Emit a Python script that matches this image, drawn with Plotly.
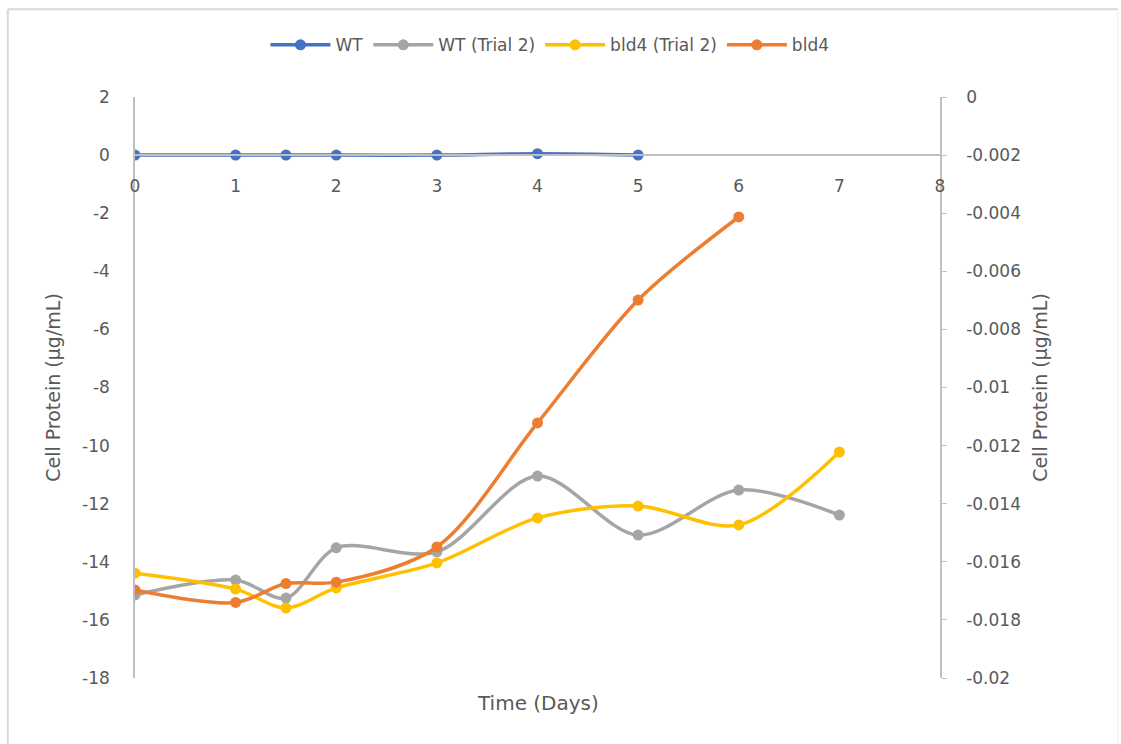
import plotly.graph_objects as go

# Sampling days
days_wt = [0, 1, 1.5, 2, 3, 4, 5]
days_trial2 = [0, 1, 1.5, 2, 3, 4, 5, 6, 7]
days_bld4 = [0, 1, 1.5, 2, 3, 4, 5, 6]

# Cell protein (µg/mL)
wt = [0.0, 0.0, 0.0, 0.0, 0.0, 0.05, 0.0]
wt_trial2 = [-15.14, -14.63, -15.25, -13.52, -13.66, -11.05, -13.08, -11.53, -12.39]
bld4_trial2 = [-14.39, -14.94, -15.59, -14.9, -14.04, -12.49, -12.08, -12.73, -10.22]
bld4 = [-14.97, -15.4, -14.75, -14.7, -13.49, -9.22, -4.99, -2.13]

x_ticks = [0, 1, 2, 3, 4, 5, 6, 7, 8]
left_ticks = [2, 0, -2, -4, -6, -8, -10, -12, -14, -16, -18]
right_ticks = [0, -0.002, -0.004, -0.006, -0.008, -0.01, -0.012, -0.014, -0.016, -0.018, -0.02]
right_labels = ["0", "-0.002", "-0.004", "-0.006", "-0.008", "-0.01", "-0.012",
                "-0.014", "-0.016", "-0.018", "-0.02"]

GREY_TXT = "#595959"
AXIS = "#BFBFBF"
FONT = "DejaVu Sans, Liberation Sans, sans-serif"

series = [
    ("WT", days_wt, wt, "#4472C4"),
    ("WT (Trial 2)", days_trial2, wt_trial2, "#A5A5A5"),
    ("bld4 (Trial 2)", days_trial2, bld4_trial2, "#FFC000"),
    ("bld4", days_bld4, bld4, "#ED7D31"),
]

fig = go.Figure()
for name, xs, ys, color in series:
    fig.add_trace(go.Scatter(
        x=xs, y=ys, name=name, mode="lines+markers",
        line=dict(color=color, width=3.5, shape="spline", smoothing=0.9),
        marker=dict(color=color, size=11),
    ))

# secondary scale shown on the right
fig.add_trace(go.Scatter(
    x=[None], y=[None], yaxis="y2", showlegend=False, hoverinfo="skip",
))

fig.update_layout(
    width=1121, height=744,
    margin=dict(l=135, r=181, t=97, b=66, autoexpand=False),
    paper_bgcolor="white", plot_bgcolor="white",
    font=dict(family=FONT, color=GREY_TXT, size=17),
    showlegend=True,
    legend=dict(orientation="h", x=0.5155, xanchor="center", y=1.089, yanchor="middle",
                bgcolor="rgba(0,0,0,0)",
                font=dict(size=17, color=GREY_TXT), itemwidth=60, tracegroupgap=0),
    xaxis=dict(
        range=[0, 8], tickvals=x_ticks, ticktext=[str(v) for v in x_ticks],
        showgrid=False, zeroline=False, showline=True, linecolor=AXIS, linewidth=1.5,
        anchor="free", position=0.9, ticks="", ticklabelstandoff=16,
        title=None,
    ),
    yaxis=dict(
        range=[-18, 2], tickvals=left_ticks, ticktext=[str(v) for v in left_ticks],
        showgrid=False, zeroline=False, showline=True, linecolor=AXIS, linewidth=1.5,
        ticks="", ticklabelstandoff=20,
        title=dict(text="Cell Protein (µg/mL)", font=dict(size=19, color=GREY_TXT), standoff=16),
    ),
    yaxis2=dict(
        range=[-0.02, 0], overlaying="y", side="right", anchor="x",
        tickvals=right_ticks, ticktext=right_labels,
        showgrid=False, zeroline=False, showline=True, linecolor=AXIS, linewidth=1.5,
        ticks="outside", ticklen=5, tickcolor=AXIS, ticklabelstandoff=16,
        title=dict(text="Cell Protein (µg/mL)", font=dict(size=19, color=GREY_TXT), standoff=14),
    ),
    annotations=[dict(
        text="Time (Days)", xref="paper", yref="paper", x=0.5, y=-0.043,
        xanchor="center", yanchor="middle", showarrow=False,
        font=dict(size=20, color=GREY_TXT),
    )],
    shapes=[
        dict(type="line", xref="paper", yref="paper", x0=-0.158, x1=1.221, y0=1.151, y1=1.151,
             line=dict(color="#D9D9D9", width=2)),
        dict(type="line", xref="paper", yref="paper", x0=-0.158, x1=-0.158, y0=1.151, y1=-0.12,
             line=dict(color="#D9D9D9", width=2)),
        dict(type="line", xref="paper", yref="paper", x0=1.221, x1=1.221, y0=1.151, y1=-0.12,
             line=dict(color="#EEEEEE", width=1)),
    ],
)

fig.write_html("out.html")
